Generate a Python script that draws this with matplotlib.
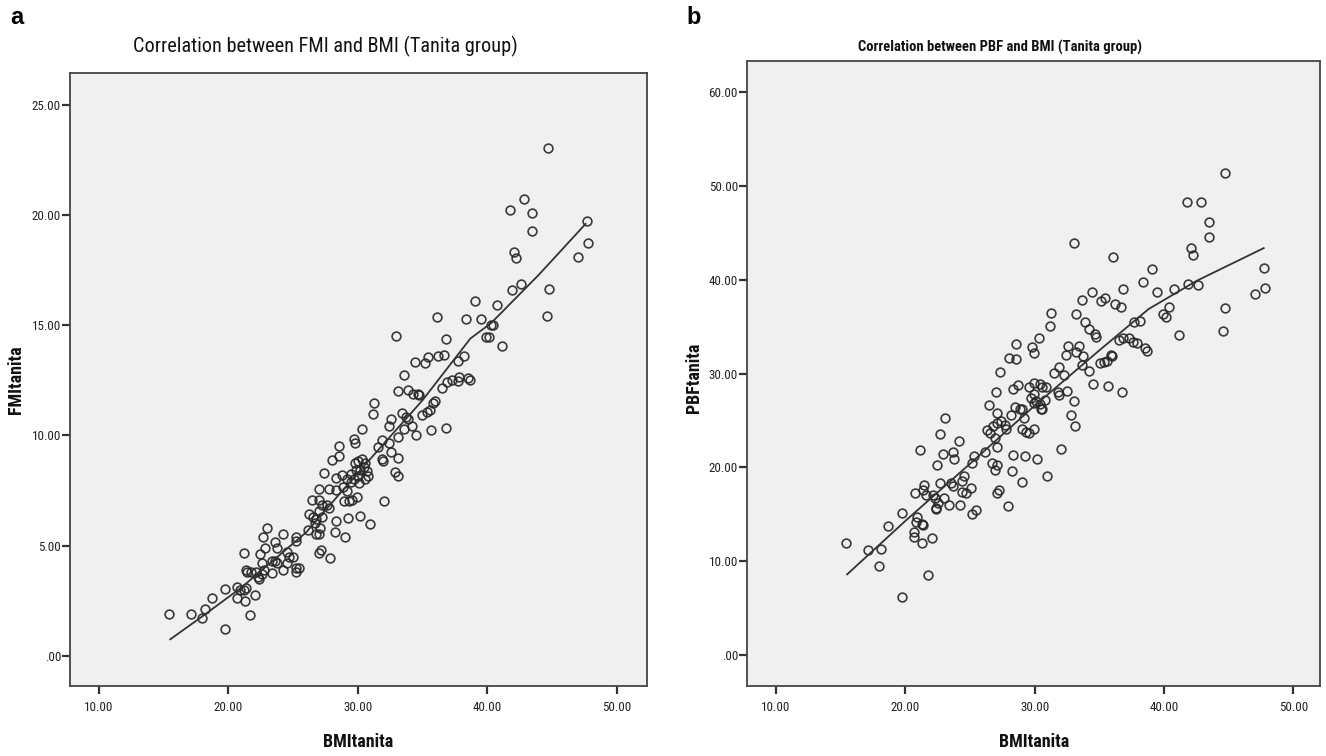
import matplotlib
matplotlib.use("Agg")
import matplotlib.pyplot as plt
from matplotlib import font_manager as fm
from matplotlib.ticker import FuncFormatter, FixedLocator

# Panel a: FMI vs BMI (Tanita group)
bmi_a = [44.66, 42.88, 41.79, 43.47, 43.47, 47.69, 42.04, 42.26, 47.81, 47.05,
         42.63, 41.90, 44.74, 39.03, 40.72, 44.60, 36.13, 38.38, 39.51, 40.30,
         40.44, 32.98, 36.78, 39.87, 40.16, 41.14, 36.22, 36.69, 38.19, 37.71,
         34.42, 35.18, 35.46, 33.60, 36.50, 36.86, 37.26, 37.82, 37.71, 38.52,
         38.69, 33.12, 33.88, 34.25, 34.67, 34.75, 31.21, 31.15, 35.94, 35.79,
         35.57, 35.32, 34.95, 32.56, 33.40, 33.69, 33.91, 32.42, 33.54, 34.19,
         35.65, 36.78, 34.53, 30.31, 29.69, 29.80, 31.86, 31.58, 33.12, 32.42,
         32.56, 28.57, 28.57, 28.00, 31.86, 31.94, 33.07, 29.75, 30.03, 30.31,
         30.59, 29.89, 30.17, 30.45, 30.73, 30.03, 30.53, 30.82, 29.47, 29.69,
         30.08, 27.36, 28.34, 28.76, 29.18, 29.47, 27.78, 28.34, 28.85, 29.18,
         26.99, 32.90, 33.12, 26.46, 27.02, 27.22, 27.64, 27.78, 28.90, 29.33,
         29.55, 29.97, 32.05, 26.23, 26.51, 26.79, 27.22, 26.99, 30.17, 29.27,
         28.34, 30.96, 26.65, 27.07, 26.17, 28.20, 26.74, 27.02, 28.99, 22.63,
         23.00, 24.18, 23.61, 23.78, 25.25, 25.19, 21.17, 22.43, 22.86, 22.57,
         23.56, 24.54, 24.68, 24.97, 27.13, 27.02, 27.83, 23.36, 23.78, 24.18,
         24.54, 25.19, 25.47, 25.25, 21.36, 21.45, 21.73, 22.15, 22.29, 22.38,
         22.57, 23.36, 22.71, 19.70, 20.69, 20.89, 21.36, 21.17, 20.69, 21.25,
         22.07, 15.40, 17.14, 17.93, 18.16, 18.69, 19.76, 21.70]
fmi_a = [23.03, 20.75, 20.21, 20.10, 19.29, 19.73, 18.32, 18.07, 18.74, 18.11,
         16.86, 16.59, 16.63, 16.11, 15.94, 15.42, 15.38, 15.28, 15.28, 15.03,
         15.03, 14.51, 14.40, 14.49, 14.49, 14.08, 13.59, 13.65, 13.61, 13.37,
         13.35, 13.31, 13.55, 12.76, 12.16, 12.44, 12.54, 12.64, 12.46, 12.60,
         12.54, 12.03, 12.07, 11.89, 11.89, 11.83, 11.47, 10.96, 11.55, 11.49,
         11.14, 11.08, 10.94, 10.74, 11.02, 10.82, 10.74, 10.43, 10.31, 10.41,
         10.25, 10.35, 10.01, 10.31, 9.83, 9.66, 9.81, 9.46, 9.91, 9.66,
         9.26, 9.50, 9.06, 8.89, 8.91, 8.83, 8.96, 8.75, 8.85, 8.91,
         8.75, 8.45, 8.45, 8.55, 8.41, 8.14, 8.04, 8.14, 8.25, 8.04,
         7.84, 8.29, 8.08, 8.21, 8.04, 7.90, 7.58, 7.54, 7.68, 7.48,
         7.58, 8.35, 8.14, 7.07, 7.09, 6.83, 6.83, 6.69, 7.03, 7.03,
         7.09, 7.23, 7.03, 6.42, 6.32, 6.22, 6.32, 6.56, 6.36, 6.26,
         6.12, 5.96, 6.02, 5.81, 5.71, 5.61, 5.51, 5.51, 5.41, 5.37,
         5.81, 5.51, 5.17, 4.90, 5.41, 5.21, 4.66, 4.60, 4.90, 4.19,
         4.30, 4.70, 4.50, 4.50, 4.80, 4.66, 4.44, 4.30, 4.23, 3.89,
         4.19, 3.99, 3.99, 3.79, 3.89, 3.79, 3.79, 3.79, 3.59, 3.48,
         3.73, 3.75, 3.89, 3.02, 3.12, 2.98, 3.08, 2.98, 2.63, 2.51,
         2.78, 1.92, 1.90, 1.70, 2.11, 2.61, 1.22, 1.86]
fit_bmi_a = [15.5, 18.0, 21.0, 26.0, 30.0, 35.0, 38.7, 40.3, 44.0, 47.6]
fit_fmi_a = [0.75, 1.8, 3.1, 5.6, 8.3, 11.6, 14.4, 15.1, 17.3, 19.6]

# Panel b: PBF vs BMI (Tanita group)
bmi_b = [44.67, 41.76, 42.89, 43.48, 43.45, 33.03, 42.06, 42.27, 36.08, 39.04,
         47.74, 38.36, 41.85, 42.65, 36.79, 34.42, 39.46, 40.73, 47.83, 47.03,
         33.62, 35.16, 35.46, 36.23, 36.67, 40.34, 44.72, 31.26, 33.18, 39.93,
         40.14, 33.92, 37.68, 38.15, 31.17, 34.22, 44.58, 30.31, 28.59, 34.66,
         34.72, 36.50, 36.79, 37.26, 37.62, 37.92, 41.17, 32.59, 33.39, 29.78,
         29.92, 28.00, 28.53, 32.44, 33.18, 33.71, 35.90, 35.99, 38.51, 38.69,
         33.62, 35.34, 35.01, 35.61, 31.91, 27.35, 31.49, 32.29, 34.22, 29.54,
         28.74, 28.29, 27.02, 30.37, 29.92, 30.58, 30.87, 32.53, 31.79, 31.91,
         34.51, 35.70, 36.73, 29.92, 26.46, 28.44, 29.04, 30.37, 30.07, 29.92,
         30.46, 30.60, 29.69, 30.81, 33.06, 27.11, 28.15, 28.83, 27.05, 27.41,
         27.79, 27.70, 26.28, 26.52, 26.81, 26.96, 27.11, 29.18, 29.04, 29.33,
         29.57, 29.92, 23.03, 22.67, 24.15, 32.82, 33.12, 26.13, 23.65, 22.88,
         23.77, 21.10, 25.28, 25.19, 22.46, 26.67, 26.96, 27.11, 28.35, 29.24,
         28.21, 30.16, 32.05, 30.96, 28.98, 24.54, 24.36, 25.04, 23.50, 22.67,
         23.71, 21.43, 21.34, 20.75, 24.39, 24.68, 23.35, 24.21, 27.05, 27.20,
         27.91, 21.63, 22.17, 22.29, 22.37, 22.37, 22.97, 22.52, 19.71, 18.67,
         20.89, 20.81, 21.34, 21.25, 25.19, 25.48, 20.69, 20.69, 21.28, 22.08,
         15.42, 17.13, 18.08, 17.93, 21.72, 19.77]
pbf_b = [51.43, 48.33, 48.33, 46.19, 44.62, 43.95, 43.43, 42.71, 42.48, 41.19,
         41.29, 39.76, 39.62, 39.43, 39.05, 38.71, 38.67, 39.05, 39.14, 38.48,
         37.86, 37.76, 38.10, 37.43, 37.14, 37.14, 37.05, 36.52, 36.33, 36.33,
         36.05, 35.57, 35.48, 35.67, 35.10, 34.76, 34.52, 33.81, 33.19, 34.19,
         33.90, 33.57, 33.81, 33.81, 33.43, 33.33, 34.14, 33.00, 32.95, 32.86,
         32.19, 31.67, 31.52, 32.05, 32.29, 31.90, 32.05, 31.90, 32.71, 32.38,
         30.95, 31.29, 31.19, 31.33, 30.71, 30.14, 30.10, 29.90, 30.33, 28.57,
         28.81, 28.33, 28.10, 28.95, 29.05, 28.57, 28.57, 28.19, 28.10, 27.71,
         28.90, 28.71, 28.00, 27.86, 26.67, 26.43, 26.29, 26.76, 27.14, 26.90,
         26.29, 26.19, 27.38, 27.24, 27.14, 25.86, 25.62, 26.29, 24.76, 25.00,
         24.14, 24.52, 23.95, 23.67, 24.38, 23.10, 22.14, 25.24, 24.14, 23.81,
         23.67, 24.14, 25.24, 23.57, 22.86, 25.62, 24.43, 21.67, 21.67, 21.43,
         20.86, 21.90, 21.19, 20.48, 20.24, 20.48, 19.76, 20.24, 21.33, 21.19,
         19.62, 20.95, 22.00, 19.14, 18.48, 19.14, 18.57, 17.86, 18.33, 18.33,
         18.00, 18.10, 17.62, 17.24, 17.38, 17.29, 15.95, 16.05, 17.24, 17.62,
         15.86, 17.05, 17.05, 16.76, 15.71, 15.57, 16.76, 16.19, 15.10, 13.81,
         14.76, 14.19, 13.90, 13.95, 15.00, 15.48, 13.10, 12.62, 11.90, 12.52,
         11.90, 11.19, 11.33, 9.52, 8.57, 6.19]
fit_bmi_b = [15.5, 20.0, 25.0, 30.0, 35.0, 38.8, 42.5, 47.7]
fit_pbf_b = [8.6, 14.3, 20.4, 26.6, 32.5, 36.9, 39.9, 43.4]

x_ticks = [10, 20, 30, 40, 50]
y_ticks_a = [0, 5, 10, 15, 20, 25]
y_ticks_b = [0, 10, 20, 30, 40, 50, 60]

W, H = 1326, 756

# pick a narrow face if the machine has one (SPSS output uses Arial Narrow)
installed = {f.name for f in fm.fontManager.ttflist}
narrow = [n for n in ['Liberation Sans Narrow', 'Arial Narrow', 'DejaVu Sans Condensed',
                      'Roboto Condensed', 'Open Sans Condensed'] if n in installed]
STRETCH = 'normal'
if narrow:
    FAMILY = [narrow[0], 'DejaVu Sans']
else:
    FAMILY = ['DejaVu Sans']
    if any(f.name == 'DejaVu Sans' and f.stretch == 'condensed' for f in fm.fontManager.ttflist):
        STRETCH = 'condensed'
plt.rcParams['font.family'] = FAMILY
plt.rcParams['font.stretch'] = STRETCH


def spss_fmt(v, pos):
    s = f"{v:.2f}"
    return s[1:] if s.startswith("0.") else s


def box(l, t, r, b):
    return [l / W, 1 - b / H, (r - l) / W, (b - t) / H]


def fit_size(fig, text, width_px, weight='normal', start=12.0):
    # font size that makes `text` about width_px wide in the chosen face
    t = fig.text(0, 0, text, fontsize=start, fontweight=weight)
    w = t.get_window_extent(renderer=fig.canvas.get_renderer()).width
    t.remove()
    return start * width_px / w


def style_axes(ax, xlim, ylim, yticks, tick_size):
    ax.set_facecolor('#f0f0f0')
    ax.set_xlim(*xlim)
    ax.set_ylim(*ylim)
    ax.xaxis.set_major_locator(FixedLocator(x_ticks))
    ax.yaxis.set_major_locator(FixedLocator(yticks))
    ax.xaxis.set_major_formatter(FuncFormatter(spss_fmt))
    ax.yaxis.set_major_formatter(FuncFormatter(spss_fmt))
    for sp in ax.spines.values():
        sp.set_color('#444444')
        sp.set_linewidth(1.3)
    ax.tick_params(axis='both', direction='out', length=6, width=1.6,
                   color='#333333', labelsize=tick_size, labelcolor='#222222')
    ax.tick_params(axis='x', pad=5)
    ax.tick_params(axis='y', pad=0.5)


def scatter_panel(ax, x, y, fx, fy):
    ax.plot(x, y, 'o', markersize=6.3, markerfacecolor='none',
            markeredgecolor='#262626', markeredgewidth=1.2, alpha=0.9)
    ax.plot(fx, fy, '-', color='#333333', linewidth=1.3)


fig = plt.figure(figsize=(W / 100, H / 100), dpi=100)

tick_size = min(fit_size(fig, '25.00', 29), 11)
title_a_size = fit_size(fig, 'Correlation between FMI and BMI (Tanita group)', 383)
title_b_size = fit_size(fig, 'Correlation between PBF and BMI (Tanita group)', 285, 'bold')
xlab_size = min(fit_size(fig, 'BMItanita', 70, 'bold'), 13.5)

ax_a = fig.add_axes(box(70, 73, 647, 686))
scatter_panel(ax_a, bmi_a, fmi_a, fit_bmi_a, fit_fmi_a)
style_axes(ax_a, (7.75, 52.35), (-1.37, 26.45), y_ticks_a, tick_size)

ax_b = fig.add_axes(box(747, 61, 1320, 686))
scatter_panel(ax_b, bmi_b, pbf_b, fit_bmi_b, fit_pbf_b)
style_axes(ax_b, (7.76, 52.05), (-3.31, 63.36), y_ticks_b, tick_size)

# titles and labels
fig.text(325 / W, 1 - 46 / H, 'Correlation between FMI and BMI (Tanita group)',
         ha='center', va='center', fontsize=title_a_size, color='#111111')
fig.text(1000 / W, 1 - 47 / H, 'Correlation between PBF and BMI (Tanita group)',
         ha='center', va='center', fontsize=title_b_size, fontweight='bold', color='#111111')
for cx in (358, 1034):
    fig.text(cx / W, 1 - 742 / H, 'BMItanita', ha='center', va='center',
             fontsize=xlab_size, fontweight='bold', color='#111111')
fig.text(16 / W, 1 - 380 / H, 'FMItanita', ha='center', va='center', rotation=90,
         fontsize=xlab_size, fontweight='bold', color='#111111')
fig.text(694 / W, 1 - 378 / H, 'PBFtanita', ha='center', va='center', rotation=90,
         fontsize=xlab_size, fontweight='bold', color='#111111')

fig.text(17 / W, 1 - 18 / H, 'a', ha='center', va='center', fontsize=17,
         fontweight='bold', family=['Liberation Sans', 'DejaVu Sans'], fontstretch='normal')
fig.text(694 / W, 1 - 18 / H, 'b', ha='center', va='center', fontsize=17,
         fontweight='bold', family=['Liberation Sans', 'DejaVu Sans'], fontstretch='normal')

fig.savefig('out.png', dpi=100)
